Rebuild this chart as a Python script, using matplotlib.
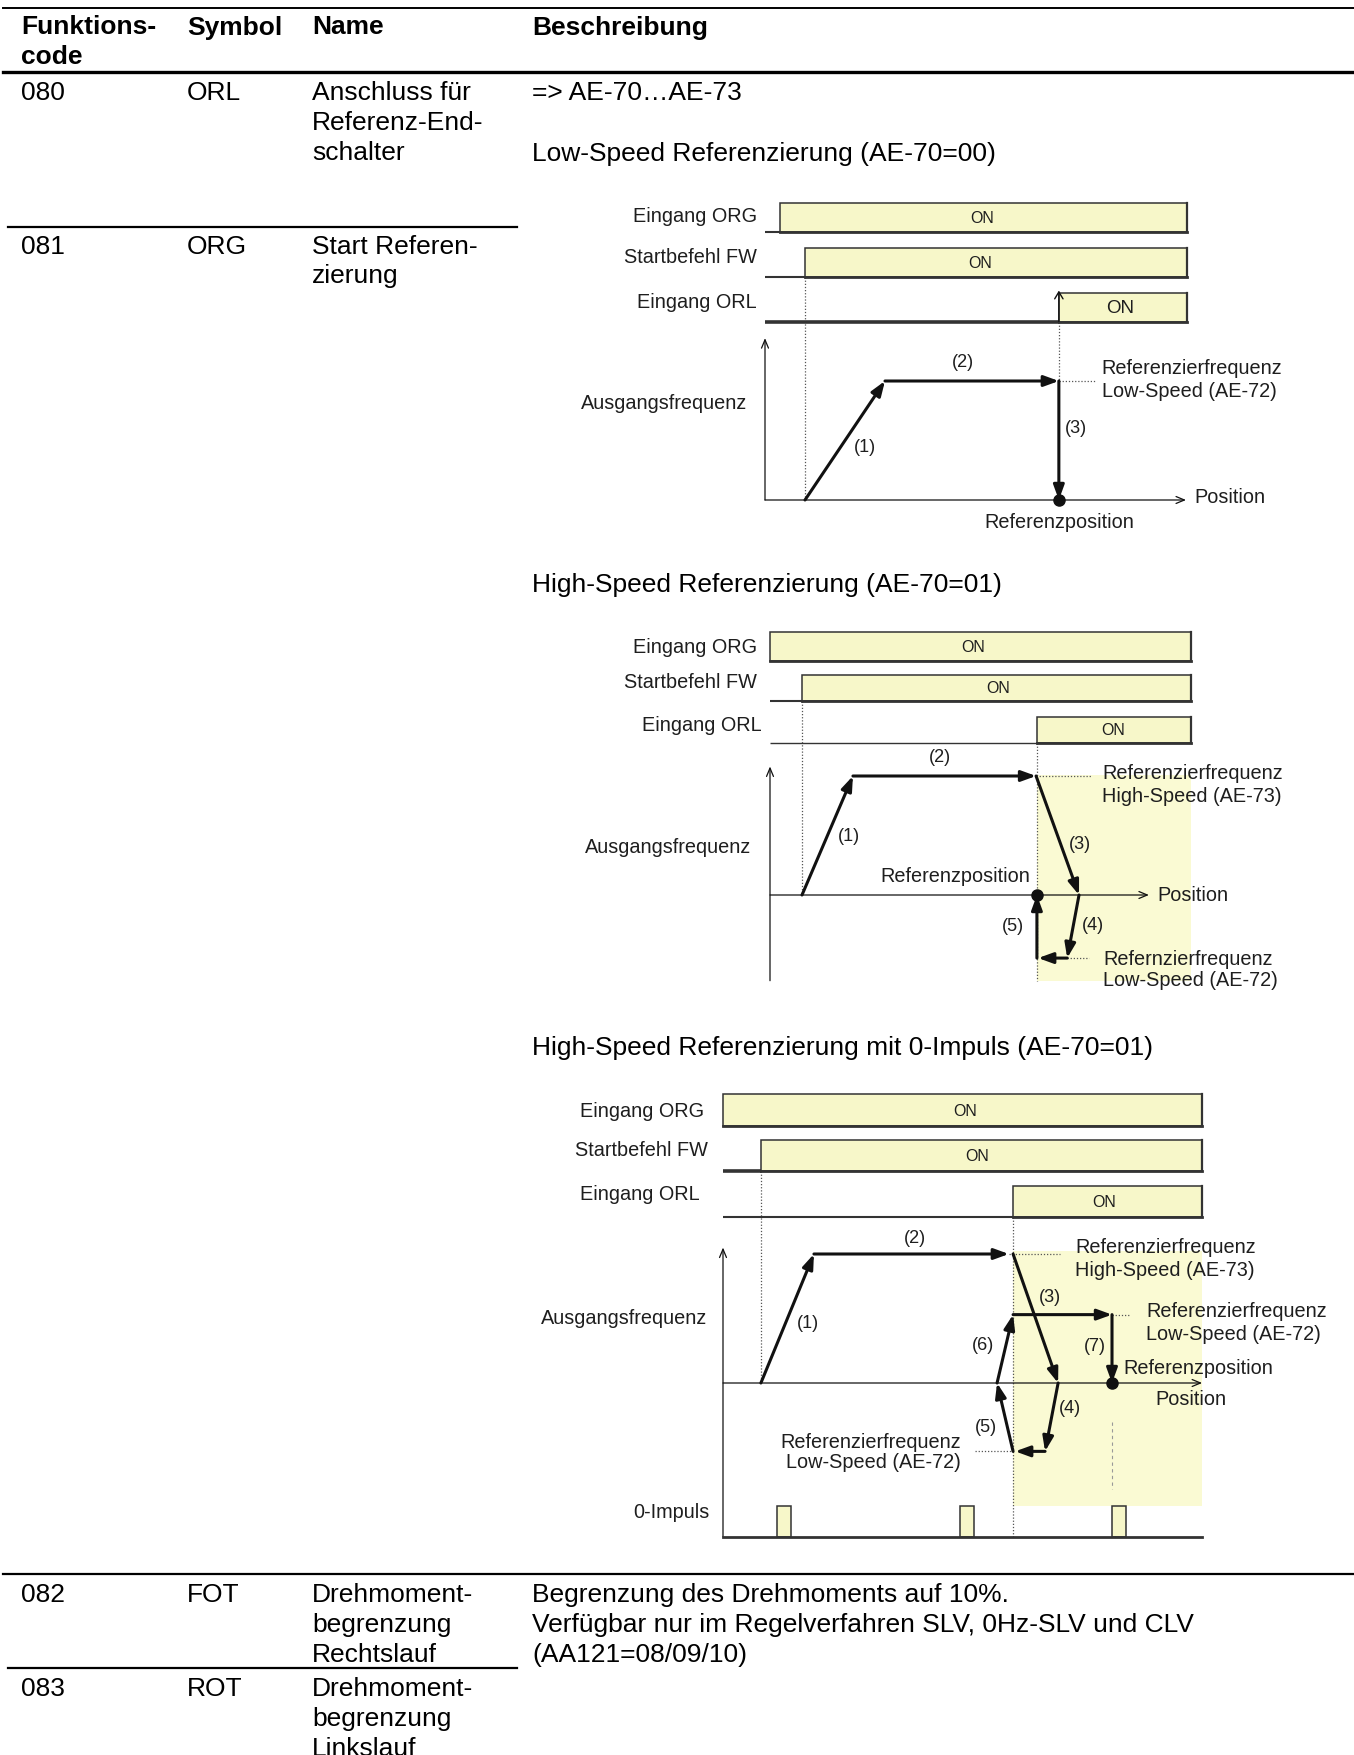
import matplotlib
matplotlib.use("Agg")
import matplotlib.pyplot as plt
from matplotlib.patches import Rectangle

plt.rcParams["font.family"] = ["Liberation Sans", "DejaVu Sans"]

W, H = 1354, 1756

# ---- table content ----
header = ["Funktions-\ncode", "Symbol", "Name", "Beschreibung"]
codes = ["080", "081", "082", "083"]
symbols = ["ORL", "ORG", "FOT", "ROT"]
names = ["Anschluss für\nReferenz-End-\nschalter",
         "Start Referen-\nzierung",
         "Drehmoment-\nbegrenzung\nRechtslauf",
         "Drehmoment-\nbegrenzung\nLinkslauf"]
descr_080 = "=> AE-70…AE-73"
titles = ["Low-Speed Referenzierung (AE-70=00)",
          "High-Speed Referenzierung (AE-70=01)",
          "High-Speed Referenzierung mit 0-Impuls (AE-70=01)"]
descr_082 = ("Begrenzung des Drehmoments auf 10%.\n"
             "Verfügbar nur im Regelverfahren SLV, 0Hz-SLV und CLV\n"
             "(AA121=08/09/10)")

# ---- diagram data: x = position, y = output frequency (high speed = 1) ----
sig_names = ["Eingang ORG", "Startbefehl FW", "Eingang ORL"]

# low speed
d1_on = [0.36, 0.95, 6.98]
d1_end = 10.02
d1_paths = [[(0.95, 0), (2.85, 1.0), (6.98, 1.0), (6.98, 0)]]
d1_ref = [(6.98, 0)]
d1_dotted = [((0.95, 1.87), (0.95, 0)), ((6.98, 1.50), (6.98, 1.0)),
             ((6.98, 1.0), (7.84, 1.0))]
d1_texts = [("(2)", 4.70, 1.16, "center"), ("(1)", 2.38, 0.45, "center"),
            ("(3)", 7.39, 0.61, "center"),
            ("Referenzierfrequenz", 8.0, 1.11, "left"),
            ("Low-Speed (AE-72)", 8.0, 0.92, "left"),
            ("Ausgangsfrequenz", -0.43, 0.82, "right"),
            ("Position", 10.19, 0.03, "left"),
            ("Referenzposition", 6.98, -0.18, "center")]

# high speed
d2_on = [0.0, 0.76, 6.34]
d2_end = 10.0
d2_paths = [[(0.76, 0), (1.97, 1.0), (6.32, 1.0), (7.34, 0), (7.06, -0.53), (6.37, -0.53)],
            [(6.34, -0.53), (6.34, 0)]]
d2_ref = [(6.34, 0)]
d2_dotted = [((0.76, 1.63), (0.76, 0)), ((6.34, 1.28), (6.34, -0.72)),
             ((6.32, 1.0), (7.62, 1.0)), ((7.06, -0.53), (7.58, -0.53))]
d2_texts = [("(2)", 4.04, 1.16, "center"), ("(1)", 1.88, 0.50, "center"),
            ("(3)", 7.36, 0.43, "center"), ("(4)", 7.67, -0.25, "center"),
            ("(5)", 5.77, -0.26, "center"),
            ("Referenzposition", 6.18, 0.16, "right"),
            ("Referenzierfrequenz", 7.89, 1.03, "left"),
            ("High-Speed (AE-73)", 7.89, 0.84, "left"),
            ("Refernzierfrequenz", 7.91, -0.53, "left"),
            ("Low-Speed (AE-72)", 7.91, -0.71, "left"),
            ("Ausgangsfrequenz", -0.45, 0.41, "right"),
            ("Position", 9.19, 0.0, "left")]

# high speed with zero pulse
d3_on = [0.0, 0.90, 6.89]
d3_end = 11.38
d3_paths = [[(0.90, 0), (2.16, 1.0), (6.79, 1.0)],
            [(6.89, 1.0), (7.96, 0), (7.65, -0.53), (6.94, -0.53)],
            [(6.89, -0.53), (6.51, 0), (6.89, 0.53), (9.24, 0.53), (9.24, 0)]]
d3_ref = [(9.24, 0)]
d3_pulses = [(1.28, 1.62), (5.63, 5.96), (9.24, 9.57)]
d3_dotted = [((0.90, 1.64), (0.90, 0)), ((6.89, 1.29), (6.89, -1.19)),
             ((6.79, 1.0), (8.0, 1.0)), ((9.24, 0.53), (9.67, 0.53)),
             ((5.99, -0.53), (6.89, -0.53))]
d3_texts = [("(2)", 4.56, 1.13, "center"), ("(1)", 2.02, 0.47, "center"),
            ("(3)", 7.77, 0.67, "center"), ("(6)", 6.18, 0.30, "center"),
            ("(7)", 8.84, 0.29, "center"), ("(4)", 8.24, -0.19, "center"),
            ("(5)", 6.25, -0.34, "center"),
            ("Referenzierfrequenz", 8.36, 1.06, "left"),
            ("High-Speed (AE-73)", 8.36, 0.88, "left"),
            ("Referenzierfrequenz", 10.05, 0.56, "left"),
            ("Low-Speed (AE-72)", 10.05, 0.38, "left"),
            ("Referenzposition", 9.50, 0.12, "left"),
            ("Position", 10.26, -0.12, "left"),
            ("Referenzierfrequenz", 5.65, -0.45, "right"),
            ("Low-Speed (AE-72)", 5.65, -0.61, "right"),
            ("Ausgangsfrequenz", -0.38, 0.51, "right")]

FILL = "#f7f7c9"
SHADE = "#fafad3"
EDGE = "#333333"
TXT = "#1e1e1e"

fig = plt.figure(figsize=(W / 100, H / 100), dpi=100)
ax = fig.add_axes([0, 0, 1, 1], label="table")
ax.set_xlim(0, W)
ax.set_ylim(H, 0)
ax.axis("off")

FS = 19
LINE = 30
col_x = [21, 187, 312, 532]


def put(x, y, s, bold=False):
    for i, line in enumerate(s.split("\n")):
        ax.text(x, y + i * LINE + 9.5, line, fontsize=FS, va="baseline",
                fontweight="bold" if bold else "normal", color="black")


for x, h in zip(col_x, header):
    put(x, 25, h, bold=True)

row_y = [91, 244, 1593, 1687]
for y, c, s, n in zip(row_y, codes, symbols, names):
    put(col_x[0], y, c)
    put(col_x[1], y, s)
    put(col_x[2], y, n)

put(col_x[3], 91, descr_080)
for y, t in zip([152, 583, 1046], titles):
    put(col_x[3], y, t)
put(col_x[3], 1593, descr_082)

ax.plot([3, W], [9, 9], color="black", lw=1.4)
ax.plot([3, W], [73, 73], color="black", lw=2.4)
ax.plot([8, 517], [228, 228], color="black", lw=1.6)
ax.plot([3, W], [1575, 1575], color="black", lw=1.6)
ax.plot([8, 517], [1669, 1669], color="black", lw=1.6)


def arrow(a, p0, p1, lw=2.2, ms=16, style="-|>,head_length=0.55,head_width=0.2"):
    a.annotate("", xy=p1, xytext=p0,
               arrowprops=dict(arrowstyle=style, lw=lw, color="#111111",
                               shrinkA=0, shrinkB=0, mutation_scale=ms))


def diagram(name, px0, py0, sx, sy, on, end, rows, low_lw, on_x, on_fs,
            label_x, label_y, axis_y, x_end, paths, refs, dotted, texts,
            shade=None, orl_arrow=False):
    a = fig.add_axes([0, 0, 1, 1], label=name)
    a.set_xlim(-px0 / sx, (W - px0) / sx)
    a.set_ylim((py0 - H) / sy, py0 / sy)
    a.axis("off")
    if shade:
        (x0, x1), (y0, y1) = shade
        a.add_patch(Rectangle((x0, y0), x1 - x0, y1 - y0, fc=SHADE, ec="none", zorder=0))
    for i, (t_on, (y0, y1)) in enumerate(zip(on, rows)):
        if t_on > 0:
            a.plot([0, t_on], [y0, y0], color=EDGE, lw=low_lw[i], solid_capstyle="butt")
        a.add_patch(Rectangle((t_on, y0), end - t_on, y1 - y0, fc=FILL, ec=EDGE,
                              lw=1.1, zorder=2))
        a.plot([t_on, end], [y0, y0], color=EDGE, lw=2.0, zorder=3)
        a.plot([end, end], [y0, y1], color=EDGE, lw=1.6, zorder=3)
        a.text(on_x[i], (y0 + y1) / 2, "ON", fontsize=on_fs[i], ha="center",
               va="center", color=TXT, zorder=4)
        a.text(label_x[i], label_y[i], sig_names[i], fontsize=14.3, ha="right",
               va="center", color=TXT)
    if orl_arrow:
        y0, y1 = rows[2]
        arrow(a, (on[2], y0), (on[2], y1 + 0.02), lw=1.0, ms=10,
              style="->,head_length=0.5,head_width=0.3")
    # frequency axes
    arrow(a, (0, axis_y[0]), (0, axis_y[1]), lw=0.9, ms=10,
          style="->,head_length=0.6,head_width=0.25")
    arrow(a, (0, 0), (x_end, 0), lw=0.9, ms=10,
          style="->,head_length=0.6,head_width=0.25")
    for p0, p1 in dotted:
        a.plot([p0[0], p1[0]], [p0[1], p1[1]], color="#555555", lw=0.9,
               ls=(0, (1, 1.5)), zorder=1)
    for path in paths:
        for p0, p1 in zip(path[:-1], path[1:]):
            arrow(a, p0, p1)
    for x, y in refs:
        a.plot(x, y, "o", ms=8, color="#111111", zorder=5)
    for s, x, y, ha in texts:
        fs = 13 if s.startswith("(") and len(s) == 3 else 14.3
        a.text(x, y, s, fontsize=fs, ha=ha, va="center", color=TXT, zorder=6)
    return a


diagram("d1", 765, 501, 42.1, 119, d1_on, d1_end,
        [(2.25, 2.50), (1.87, 2.12), (1.50, 1.74)], [1.5, 1.5, 2.6],
        [5.15, 5.10, 8.43], [11.5, 11.5, 13.5], [-0.19] * 3, [2.39, 2.05, 1.67],
        (0, 1.36), 10.0, d1_paths, d1_ref, d1_dotted, d1_texts, orl_arrow=True)

diagram("d2", 770, 896, 42.1, 119, d2_on, d2_end,
        [(1.97, 2.21), (1.63, 1.85), (1.28, 1.50)], [1.5, 1.5, 1.0],
        [4.82, 5.42, 8.15], [11.5, 11.5, 11.5], [-0.31, -0.31, -0.21],
        [2.09, 1.79, 1.43], (-0.72, 1.08), 9.0, d2_paths, d2_ref, d2_dotted,
        d2_texts, shade=((6.34, 10.0), (-0.72, 1.01)))

a3 = diagram("d3", 723, 1384, 42.1, 129, d3_on, d3_end,
             [(1.99, 2.24), (1.64, 1.88), (1.29, 1.53)], [1.5, 2.6, 1.5],
             [5.75, 6.03, 9.05], [11.5, 11.5, 11.5], [-0.45, -0.36, -0.55],
             [2.11, 1.81, 1.47], (-1.19, 1.05), 11.38, d3_paths, d3_ref,
             d3_dotted, d3_texts, shade=((6.89, 11.38), (-0.95, 1.02)))
for x0, x1 in d3_pulses:
    a3.add_patch(Rectangle((x0, -1.19), x1 - x0, 0.24, fc=FILL, ec=EDGE, lw=1.1, zorder=2))
a3.plot([0, d3_end], [-1.19, -1.19], color=EDGE, lw=2.0, zorder=3)
a3.plot([9.24, 9.24], [-0.30, -0.82], color="#999999", lw=0.8, ls=(0, (3, 3)))
a3.text(-0.31, -1.0, "0-Impuls", fontsize=14.3, ha="right", va="center", color=TXT)

fig.savefig("out.png", dpi=100)
